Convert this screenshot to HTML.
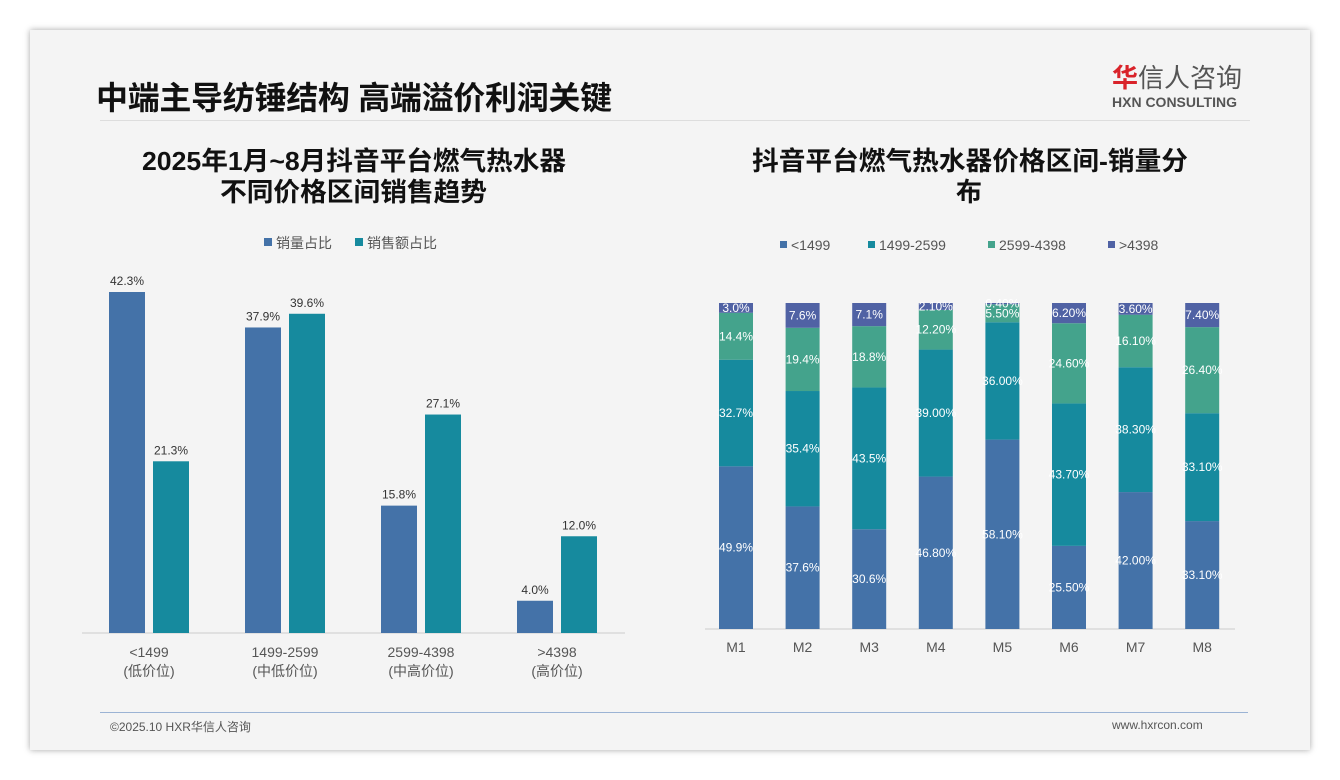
<!DOCTYPE html>
<html><head><meta charset="utf-8">
<style>
body{margin:0;width:1340px;height:780px;background:#fff;font-family:"Liberation Sans","Noto Sans CJK SC",sans-serif;overflow:hidden}
#slide{position:absolute;left:30px;top:30px;width:1280px;height:720px;background:#f4f4f4;box-shadow:0 0 6px rgba(0,0,0,.35)}
.abs{position:absolute}
</style></head><body>
<div id="slide"></div>
<div class="abs" style="left:96px;top:73px;font-size:32px;font-weight:bold;color:#111;letter-spacing:-0.3px;white-space:nowrap">中端主导纺锤结构 高端溢价利润关键</div>
<div class="abs" style="left:1112px;top:63px;font-size:26px;color:#555;line-height:30px;white-space:nowrap"><span style="color:#d9232a;font-weight:bold">华</span>信人咨询</div>
<div class="abs" style="left:1112px;top:94px;font-size:14px;font-weight:bold;color:#555">HXN CONSULTING</div>
<div class="abs" style="left:100px;top:120px;width:1150px;height:1px;background:#ddd"></div>
<div class="abs" style="left:100px;top:712px;width:1148px;height:1px;background:#9bb3d4"></div>
<div class="abs" style="left:110px;top:718px;font-size:12px;color:#555">©2025.10 HXR华信人咨询</div>
<div class="abs" style="left:1112px;top:718px;font-size:12px;color:#555">www.hxrcon.com</div>
<svg class="abs" style="left:0;top:0" width="1340" height="780" id="chart"></svg>
<script>
const leftCats=["<1499","1499-2599","2599-4398",">4398"];
const leftSub=["(低价位)","(中低价位)","(中高价位)","(高价位)"];
const volShare=[42.3,37.9,15.8,4.0];
const amtShare=[21.3,39.6,27.1,12.0];
const months=["M1","M2","M3","M4","M5","M6","M7","M8"];
const seriesNames=["<1499","1499-2599","2599-4398",">4398"];
const s1=[49.9,37.6,30.6,46.8,58.1,25.5,42.0,33.1];
const s2=[32.7,35.4,43.5,39.0,36.0,43.7,38.3,33.1];
const s3=[14.4,19.4,18.8,12.2,5.5,24.6,16.1,26.4];
const s4=[3.0,7.6,7.1,2.1,0.4,6.2,3.6,7.4];
const stackLabels=[
 ["49.9%","37.6%","30.6%","46.80%","58.10%","25.50%","42.00%","33.10%"],
 ["32.7%","35.4%","43.5%","39.00%","36.00%","43.70%","38.30%","33.10%"],
 ["14.4%","19.4%","18.8%","12.20%","5.50%","24.60%","16.10%","26.40%"],
 ["3.0%","7.6%","7.1%","2.10%","0.40%","6.20%","3.60%","7.40%"]];
const NS="http://www.w3.org/2000/svg";
const svg=document.getElementById('chart');
function el(t,a,txt){const e=document.createElementNS(NS,t);for(const k in a)e.setAttribute(k,a[k]);if(txt!==undefined)e.textContent=txt;svg.appendChild(e);return e;}
const F='"Liberation Sans","Noto Sans CJK SC",sans-serif';
const C1="#4472a8",C2="#168a9e",C3="#44a38c",C4="#5062a4";
let t=el('text',{x:142,y:170,'font-size':26,'font-weight':'bold',fill:'#111','font-family':F,textLength:424,lengthAdjust:'spacingAndGlyphs'},'2025年1月~8月抖音平台燃气热水器');

t=el('text',{x:220,y:201,'font-size':26,'font-weight':'bold',fill:'#111','font-family':F,textLength:267,lengthAdjust:'spacingAndGlyphs'},'不同价格区间销售趋势');

t=el('text',{x:752,y:170,'font-size':26,'font-weight':'bold',fill:'#111','font-family':F,textLength:436,lengthAdjust:'spacingAndGlyphs'},'抖音平台燃气热水器价格区间-销量分');

t=el('text',{x:969,y:201,'text-anchor':'middle','font-size':26,'font-weight':'bold',fill:'#111','font-family':F},'布');

[[C1,'销量占比',264],[C2,'销售额占比',355]].forEach(([c,n,x])=>{
 const r=el('rect',{x:x,y:238,width:8,height:8,fill:c});
 
 const tx=el('text',{x:x+12,y:248,'font-size':14,fill:'#555','font-family':F},n);
 
});
const LB=633,LS=341/42.3;
const lx=i=>149+136*i;
const ly=v=>LB-v*LS;
let ax=el('line',{x1:82,y1:LB,x2:625,y2:LB,stroke:'#ccc'});

leftCats.forEach((c,i)=>{
 [[volShare,C1,-22],[amtShare,C2,22]].forEach(([arr,col,off])=>{
  const v=arr[i];
  const b=el('rect',{x:lx(i)+off-18,y:ly(v),width:36,height:LB-ly(v),fill:col});
  
  const l=el('text',{x:lx(i)+off,y:ly(v)-7,'text-anchor':'middle','font-size':12,fill:'#333','font-family':F},v.toFixed(1)+'%');
  
 });
 const a=el('text',{x:lx(i),y:657,'text-anchor':'middle','font-size':14,fill:'#555','font-family':F},c);
 
 const b2=el('text',{x:lx(i),y:676,'text-anchor':'middle','font-size':14,fill:'#555','font-family':F},leftSub[i]);
 
});
const rcols=[C1,C2,C3,C4];
[780,868,988,1108].forEach((x,i)=>{
 const r=el('rect',{x:x,y:241,width:7,height:7,fill:rcols[i]});
 
 const tx=el('text',{x:x+11,y:250,'font-size':14,fill:'#555','font-family':F},seriesNames[i]);
 
});
const RB=629,RH=326;
const rx=i=>736+66.6*i;
const rh=v=>v/100*RH;
ax=el('line',{x1:705,y1:RB,x2:1235,y2:RB,stroke:'#ccc'});

const series=[s1,s2,s3,s4];
months.forEach((m,i)=>{
 const tot=s1[i]+s2[i]+s3[i]+s4[i];
 let y=RB;
 series.forEach((s,k)=>{
  const h=rh(s[i]/tot*100);
  y-=h;
  const r=el('rect',{x:rx(i)-17,y:y,width:34,height:h,fill:rcols[k]});
  
  const l=el('text',{x:rx(i),y:y+h/2+4,'text-anchor':'middle','font-size':12,fill:'#fff','font-family':F},stackLabels[k][i]);
  
 });
 const a=el('text',{x:rx(i),y:652,'text-anchor':'middle','font-size':14,fill:'#555','font-family':F},m);
 
});
</script>
</body></html>
